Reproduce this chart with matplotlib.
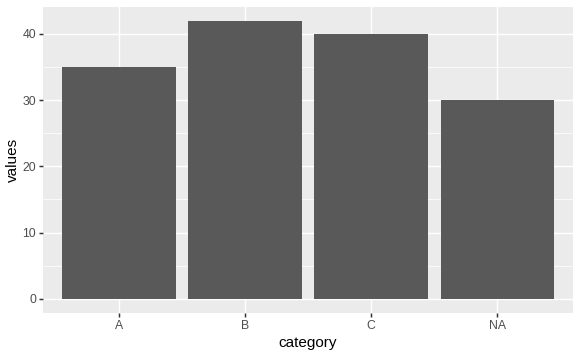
import matplotlib
matplotlib.use("Agg")
import matplotlib.pyplot as plt

categories = ["A", "B", "C", "NA"]
values = [35, 42, 40, 30]
yticks = [0, 10, 20, 30, 40]

plt.rcParams['font.family'] = ['Liberation Sans', 'DejaVu Sans']

fig = plt.figure(figsize=(5.81, 3.55), dpi=100)
ax = fig.add_axes([43/581, 42.3/355, 530/581, 306/355])
ax.set_facecolor("#EBEBEB")

x = list(range(1, len(categories) + 1))
ax.bar(x, values, width=0.9, color="#595959", zorder=3)

ax.set_xlim(0.4, len(categories) + 0.6)
vmax = max(values)
ax.set_ylim(-0.05 * vmax, vmax * 1.05)

ax.set_xticks(x)
ax.set_xticklabels(categories)
ax.set_yticks(yticks)
ax.set_yticks([5, 15, 25, 35], minor=True)

ax.grid(which="major", color="white", linewidth=1.07, zorder=0)
ax.grid(which="minor", axis="y", color="white", linewidth=0.53, zorder=0)
ax.set_axisbelow(True)

for s in ax.spines.values():
    s.set_visible(False)

ax.tick_params(which="major", length=2.75, width=1.07, color="#333333",
               labelsize=8.8, labelcolor="#4D4D4D", pad=2.2)
ax.tick_params(which="minor", length=0)

ax.set_xlabel("category", fontsize=11, color="black", labelpad=3)
ax.set_ylabel("values", fontsize=11, color="black", labelpad=1.5)

fig.savefig("out.png", dpi=100, facecolor="white")
